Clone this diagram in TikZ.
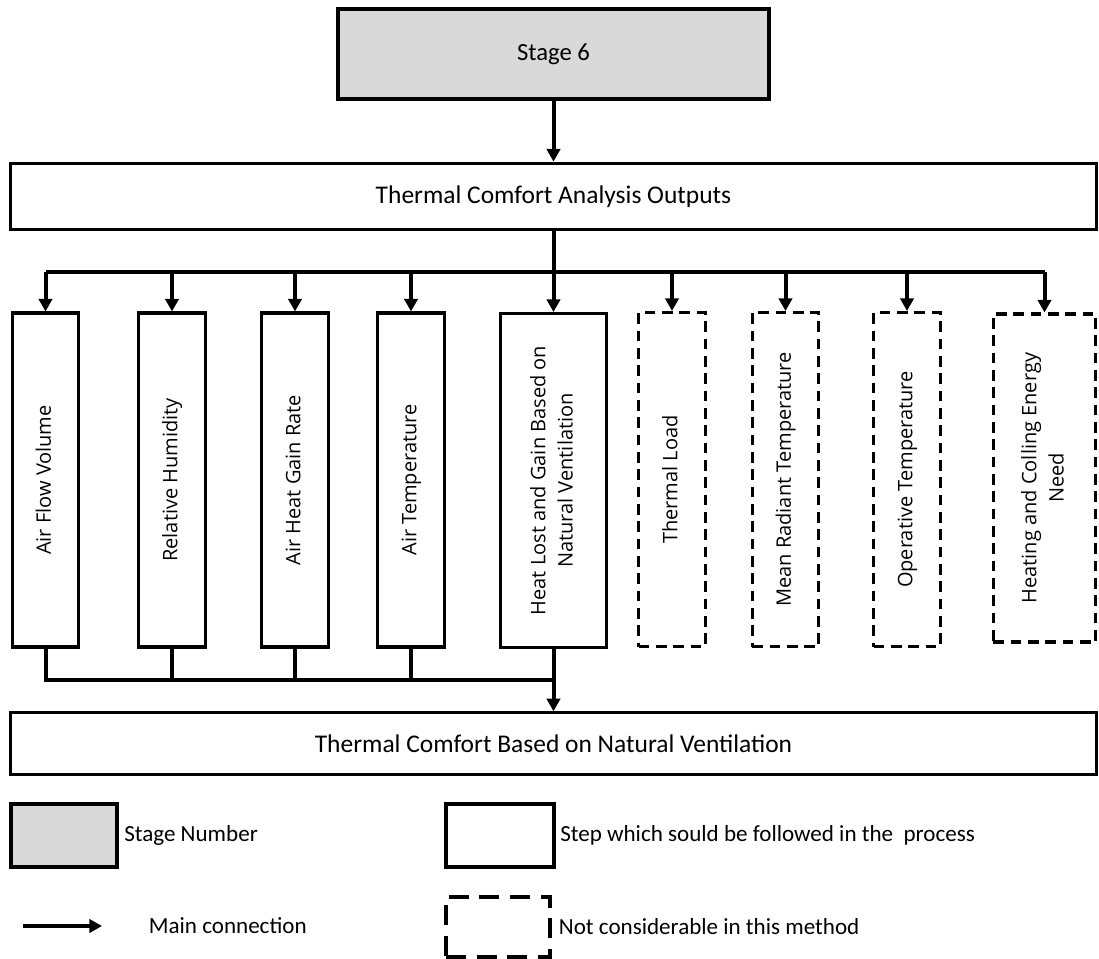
\documentclass[tikz,border=0pt]{standalone}
\usepackage{fontspec}
\usepackage{graphicx}
\setmainfont{Carlito}
\newfontfamily\opensans{Open Sans}[Ligatures=NoCommon]
\usepackage{tikz}
\usetikzlibrary{arrows.meta,positioning}
\definecolor{stagegray}{HTML}{D9D9D9}

\newcommand{\vlabel}[1]{\rotatebox{90}{\opensans\fontsize{15}{20.5}\selectfont
  \begin{tabular}{@{}c@{}}#1\end{tabular}}}

\tikzset{
  stagebox/.style={draw, fill=stagegray, line width=3pt, inner sep=0pt,
    minimum width=323pt, minimum height=67.5pt, font=\fontsize{18.5}{22}\selectfont},
  widebox/.style={draw, line width=2.3pt, inner sep=0pt,
    minimum width=815pt, font=\fontsize{19.1}{23}\selectfont},
  outbox/.style={draw, line width=2.3pt, inner sep=0pt,
    minimum width=50pt, minimum height=250.5pt},
  skipbox/.style={outbox, dash pattern=on 8pt off 5pt},
  link/.style={line width=3pt},
  arrowlink/.style={link, -{Triangle[length=9.5pt,width=10pt]}},
  legtext/.style={font=\fontsize{17.3}{20}\selectfont, inner sep=1pt, anchor=west},
}

\begin{document}
\begin{tikzpicture}[x=0.75pt, y=-0.75pt]
  \useasboundingbox (0,0) rectangle (1099,958);

  % main flow
  \node[stagebox] (stage) at (553.5,54) {Stage 6};
  \node[widebox, minimum height=50pt] (outs) at (553.5,196.5) {Thermal Comfort Analysis Outputs};
  \node[widebox, minimum height=46pt] (final) at (553.5,743.5) {Thermal Comfort Based on Natural Ventilation};

  % outputs
  \node[outbox] (b1) at (45.5,480) {\vlabel{Air Flow Volume}};
  \node[outbox] (b2) at (172,480) {\vlabel{Relative Humidity}};
  \node[outbox] (b3) at (295,480) {\vlabel{Air Heat Gain Rate}};
  \node[outbox] (b4) at (411,480) {\vlabel{Air Temperature}};
  \node[outbox, minimum width=79pt] (b5) at (553.5,480.5) {\vlabel{Heat Lost and Gain Based on\\Natural Ventilation}};
  \node[skipbox] (b6) at (672,479.5) {\vlabel{Thermal Load}};
  \node[skipbox] (b7) at (785.5,479.5) {\vlabel{Mean Radiant Temperature}};
  \node[skipbox] (b8) at (907,479.5) {\vlabel{Operative Temperature}};
  \node[skipbox, minimum width=77pt, minimum height=246pt] (b9) at (1044.5,478) {\vlabel{Heating and Colling Energy\\Need}};

  \coordinate (busT) at (553.5,272);
  \coordinate (busB) at (553.5,680);

  \draw[arrowlink] (stage.south) -- (outs.north);
  \draw[link] (outs.south) -- (busT);
  \draw[link] (b1.north |- busT) -- (b9.north |- busT);
  \foreach \b in {b1,b2,b3,b4,b5,b6,b7,b8,b9}
    \draw[arrowlink] (\b.north |- busT) -- (\b.north);

  \draw[link] (b1.south) |- (busB);
  \foreach \b in {b2,b3,b4}
    \draw[link] (\b.south) -- (\b.south |- busB);
  \draw[arrowlink] (b5.south) -- (final.north);

  % legend
  \node[draw, fill=stagegray, line width=3pt, minimum width=80pt, minimum height=47pt] (legStage) at (64,835.5) {};
  \node[legtext, right=2.5pt of legStage] (legStageTxt) {Stage Number};
  \node[draw, line width=3pt, minimum width=81pt, minimum height=47pt] (legStep) at (500,835.5) {};
  \node[legtext, right=2pt of legStep] (legStepTxt) {Step which sould be followed in the\ \ process};

  \coordinate (legArrA) at (23,926);
  \coordinate (legArrB) at (102,926);
  \draw[arrowlink] (legArrA) -- (legArrB);
  \node[legtext, right=34pt of legArrB] (legArrTxt) {Main connection};
  \node[draw, line width=3pt, dash pattern=on 15pt off 8pt, minimum width=78pt, minimum height=45pt] (legDash) at (498,927) {};
  \node[legtext, right=4pt of legDash] (legDashTxt) {Not considerable in this method};
\end{tikzpicture}
\end{document}
